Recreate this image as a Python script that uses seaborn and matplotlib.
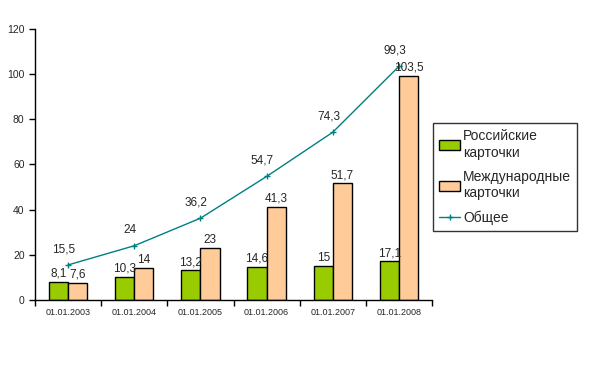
import numpy as np
import pandas as pd
import matplotlib
matplotlib.use("Agg")
import matplotlib.pyplot as plt
import seaborn as sns

# Данные с графика
dates = ["01.01.2003", "01.01.2004", "01.01.2005", "01.01.2006", "01.01.2007", "01.01.2008"]
russian = [8.1, 10.3, 13.2, 14.6, 15.0, 17.1]
international = [7.6, 14.0, 23.0, 41.3, 51.7, 99.3]
total = [15.5, 24.0, 36.2, 54.7, 74.3, 103.5]

# подписи как на исходнике (в 2008 подписи перепутаны)
russian_labels = ["8,1", "10,3", "13,2", "14,6", "15", "17,1"]
international_labels = ["7,6", "14", "23", "41,3", "51,7", "103,5"]
total_labels = ["15,5", "24", "36,2", "54,7", "74,3", "99,3"]

series_names = ["Российские\nкарточки", "Международные\nкарточки"]
line_name = "Общее"

sns.set_theme(style="white")
plt.rcParams["font.family"] = ["Liberation Sans", "DejaVu Sans"]

df = pd.DataFrame({
    "date": dates * 2,
    "value": russian + international,
    "series": [series_names[0]] * len(dates) + [series_names[1]] * len(dates),
})

fig = plt.figure(figsize=(5.98, 3.68), dpi=100)
ax = fig.add_axes([0.0585, 0.185, 0.664, 0.736])

sns.barplot(data=df, x="date", y="value", hue="series", order=dates,
            hue_order=series_names, palette=["#99cc00", "#ffcc99"],
            width=0.58, edgecolor="black", linewidth=1, saturation=1,
            ax=ax, legend=True)

x = np.arange(len(dates))
sns.lineplot(x=x, y=total, color="#008080", linewidth=1, marker="+",
             markersize=4, markeredgewidth=1, markeredgecolor="#008080",
             label=line_name, ax=ax)

# подписи значений
for cont, labels in zip(ax.containers, [russian_labels, international_labels]):
    for bar, lab in zip(cont, labels):
        ax.annotate(lab, (bar.get_x() + bar.get_width() / 2, bar.get_height()),
                    xytext=(0, 1.5), textcoords="offset points",
                    ha="center", va="bottom", fontsize=8.5)
for xi, yi, lab in zip(x, total, total_labels):
    ax.annotate(lab, (xi, yi), xytext=(-3, 7), textcoords="offset points",
                ha="center", va="bottom", fontsize=8.5)

ax.set_xlim(-0.5, len(dates) - 0.5)
ax.set_ylim(0, 120)
ax.set_yticks(range(0, 121, 20))
ax.set_xlabel("")
ax.set_ylabel("")

# деления оси X на границах категорий, подписи по центру
ax.set_xticks(np.arange(-0.5, len(dates), 1.0))
ax.set_xticklabels([])
ax.set_xticks(x, minor=True)
ax.set_xticklabels(dates, minor=True, fontsize=6.5)
ax.tick_params(axis="x", which="major", length=4, width=1, color="black", direction="out", bottom=True)
ax.tick_params(axis="x", which="minor", length=0, pad=6)
ax.tick_params(axis="y", length=4, width=1, color="black", direction="out", left=True, labelsize=7.5)

for s in ["top", "right"]:
    ax.spines[s].set_visible(False)
for s in ["left", "bottom"]:
    ax.spines[s].set_color("black")
    ax.spines[s].set_linewidth(1)

handles, labels = ax.get_legend_handles_labels()
ax.legend(handles, labels, loc="upper left", bbox_to_anchor=(1.003, 0.653),
          borderaxespad=0, frameon=True, fancybox=False, edgecolor="black",
          fontsize=10, handlelength=1.5, handleheight=0.7, labelspacing=0.75,
          borderpad=0.45, handletextpad=0.2)
ax.get_legend().get_frame().set_linewidth(1)

fig.savefig("out.png", dpi=100, facecolor="white")
